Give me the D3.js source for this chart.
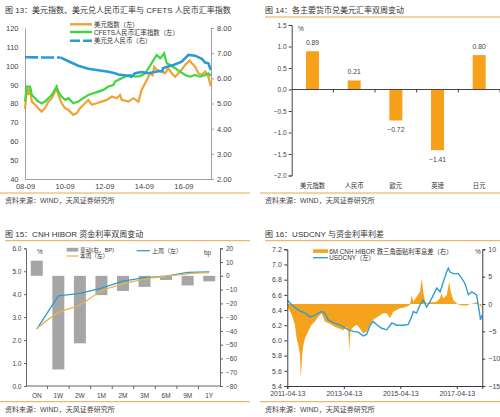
<!DOCTYPE html>
<html><head><meta charset="utf-8">
<script src="https://cdn.jsdelivr.net/npm/d3@7"></script>
<style>
body{margin:0;background:#fff}
svg{display:block}
</style></head><body>
<svg id="c" width="500" height="417"></svg>
<script>
// ---------------- DATA ----------------
// Panel 13
const dxy = [["2008-09-01",77],["2008-10-05",88],["2008-11-03",84.5],["2008-12-01",89],["2009-01-05",81],["2009-03-06",79.3],["2009-05-04",77.5],["2009-07-05",75.7],["2009-09-05",77.5],["2009-11-06",81],["2010-01-08",82.8],["2010-04-08",88.1],["2010-05-08",84.5],["2010-07-08",80.1],["2010-09-09",77.5],["2010-11-10",76.6],["2011-02-10",74],["2011-04-12",74.9],["2011-06-13",77.5],["2011-09-12",80.1],["2011-11-13",81.9],["2012-01-15",79.3],["2012-04-15",80.1],["2012-07-16",81],["2012-10-18",81.9],["2013-01-19",83.7],["2013-04-20",82.8],["2013-06-21",84.5],["2013-07-20",81.9],["2013-11-21",81],["2014-02-21",82.8],["2014-05-23",81],["2014-07-23",87.2],["2014-10-26",92.5],["2014-12-25",96],["2015-02-10",95],["2015-03-10",99.5],["2015-04-28",97.8],["2015-07-28",96.9],["2015-09-28",96],["2015-11-29",98.7],["2016-01-29",96],["2016-04-01",94.2],["2016-07-01",96.9],["2016-10-01",100.4],["2016-12-20",102.8],["2017-02-02",101.3],["2017-04-05",99.5],["2017-06-03",96],["2017-08-04",95.1],["2017-10-05",96.9],["2017-12-05",94.2],["2018-01-18",89]];
const cfets = [["2008-09-01",81],["2008-10-05",89],["2008-12-01",89],["2009-01-05",84.5],["2009-03-06",82.8],["2009-05-04",81],["2009-07-05",80.1],["2009-09-05",81],["2009-11-06",82.8],["2010-01-08",84.5],["2010-04-08",89],["2010-05-08",86.3],["2010-07-08",83.7],["2010-09-09",81.9],["2010-11-10",82.8],["2011-02-10",80.1],["2011-05-11",81],["2011-08-11",82.8],["2011-11-13",84.5],["2012-02-13",85.4],["2012-05-15",86.3],["2012-08-15",87.2],["2012-11-17",89],["2013-02-17",89.8],["2013-03-20",91.6],["2013-06-21",93],["2013-09-20",94.2],["2013-12-20",95.1],["2014-03-25",94.2],["2014-06-25",94.5],["2014-09-25",96],["2014-12-25",100],["2015-02-25",103],["2015-04-28",105.7],["2015-06-28",104],["2015-07-28",104.8],["2015-09-10",106.6],["2015-10-30",101.3],["2015-12-28",100.4],["2016-04-01",98.7],["2016-07-01",96.9],["2016-10-01",95.1],["2017-01-01",94.2],["2017-04-05",95.1],["2017-07-05",94.2],["2017-10-05",95.1],["2017-12-05",96],["2018-01-18",94.6]];
const usdcny1 = [["2008-09-01",6.84],["2009-06-01",6.83],["2010-06-15",6.83],["2010-11-10",6.68],["2011-05-11",6.5],["2011-11-13",6.38],["2012-05-15",6.32],["2012-11-17",6.26],["2013-03-20",6.2],["2013-05-18",6.15],["2013-11-21",6.1],["2014-01-15",6.06],["2014-03-25",6.2],["2014-07-23",6.25],["2014-11-25",6.2],["2015-05-26",6.28],["2015-08-11",6.28],["2015-08-20",6.4],["2015-12-31",6.5],["2016-03-01",6.53],["2016-08-01",6.66],["2016-12-02",6.93],["2017-04-05",6.9],["2017-08-04",6.78],["2017-10-05",6.63],["2017-12-05",6.6],["2018-01-18",6.33]];
const p1LeftTicks = [40,50,60,70,80,90,100,110,120];
const p1RightTicks = [2,3,4,5,6,7,8];
const p1DateTicks = ["2008-09-01","2010-09-01","2012-09-01","2014-09-01","2016-09-01"];

// Panel 14
const ccyNames = ["美元指数","人民币","欧元","英镑","日元"];
const ccyChange = [0.89,0.21,-0.72,-1.41,0.80];
const p2Ticks = [-2,-1.5,-1,-0.5,0,0.5,1,1.5];

// Panel 15
const tenors = ["ON","1W","2W","1M","2M","3M","6M","9M","1Y"];
const changeBp = [11,-68,-49,-14,-11,-8,-3,-7,-4];
const lastWeek = [2.48,3.93,4.04,4.26,4.57,4.72,4.79,4.95,4.97];
const thisWeek = [2.5,3.2,3.53,4.14,4.44,4.66,4.79,4.89,4.94];
const p3LeftTicks = [0,1,2,3,4,5,6];
const p3RightTicks = [-80,-70,-60,-50,-40,-30,-20,-10,0,10,20];

// Panel 16
const spread = [["2011-04-13",-0.4],["2011-04-27",-0.8],["2011-06-10",-2],["2011-07-20",-3.8],["2011-08-11",-6.2],["2011-09-02",-7.5],["2011-09-24",-9.3],["2011-10-05",-13.6],["2011-10-23",-9.3],["2011-11-07",-7.5],["2011-11-29",-6.2],["2012-01-08",-5],["2012-02-21",-3.8],["2012-04-05",-3.2],["2012-05-19",-2.3],["2012-07-01",-1.7],["2012-08-10",-3.2],["2012-09-24",-3.5],["2012-11-07",-3.8],["2012-12-20",-4.2],["2013-01-30",-4.4],["2013-04-05",-4.8],["2013-05-19",-4.2],["2013-06-10",-5],["2013-06-21",-8.5],["2013-07-09",-4.8],["2013-08-15",-4.2],["2013-09-28",-3.8],["2013-11-07",-4.5],["2013-12-20",-5.4],["2014-02-02",-5],["2014-03-18",-3.8],["2014-04-27",-2.9],["2014-07-01",-2.3],["2014-09-05",-1.7],["2014-10-19",-1.7],["2014-12-02",-2.6],["2015-01-11",-1.4],["2015-02-24",-1.1],["2015-04-09",-0.8],["2015-05-23",-0.7],["2015-07-02",-0.5],["2015-08-15",-0.2],["2015-09-06",1.6],["2015-09-28",0.4],["2015-11-10",1.3],["2015-12-24",2.3],["2016-01-15",4.7],["2016-02-03",2.3],["2016-02-24",0.7],["2016-03-18",0.1],["2016-05-01",0.3],["2016-06-14",0.3],["2016-07-27",0.4],["2016-09-05",1],["2016-09-27",2],["2016-10-19",1],["2016-12-02",1.6],["2016-12-24",3.2],["2017-01-05",4.1],["2017-01-23",2.3],["2017-02-28",0.7],["2017-04-13",0.1],["2017-05-23",-0.2],["2017-07-05",-0.3],["2017-08-18",-0.3],["2017-10-01",0],["2017-11-10",0.1],["2017-12-24",0.3],["2018-02-06",-0.2],["2018-02-24",-0.8]];
const usdcny4 = [["2011-04-13",6.53],["2011-06-10",6.47],["2011-09-02",6.40],["2011-11-29",6.36],["2012-01-30",6.31],["2012-04-05",6.33],["2012-05-19",6.36],["2012-07-01",6.38],["2012-08-10",6.36],["2012-09-24",6.27],["2012-11-29",6.23],["2013-02-02",6.21],["2013-04-05",6.18],["2013-06-10",6.14],["2013-08-15",6.12],["2013-10-16",6.11],["2013-12-20",6.06],["2014-02-02",6.08],["2014-03-18",6.2],["2014-04-27",6.25],["2014-06-10",6.21],["2014-08-15",6.16],["2014-10-19",6.14],["2014-12-24",6.23],["2015-02-24",6.2],["2015-05-23",6.2],["2015-07-24",6.21],["2015-09-06",6.31],["2015-09-28",6.38],["2015-11-10",6.36],["2015-12-24",6.47],["2016-02-03",6.53],["2016-03-18",6.44],["2016-05-01",6.51],["2016-06-14",6.6],["2016-07-27",6.69],["2016-09-09",6.64],["2016-10-19",6.77],["2016-12-02",6.9],["2016-12-24",6.95],["2017-01-15",6.9],["2017-02-28",6.88],["2017-05-01",6.88],["2017-06-14",6.82],["2017-07-27",6.75],["2017-09-09",6.6],["2017-10-23",6.64],["2017-12-24",6.6],["2018-01-29",6.38],["2018-02-13",6.27],["2018-03-02",6.33]];
const p4LeftTicks = [5.4,5.6,5.8,6.0,6.2,6.4,6.6,6.8,7.0,7.2];
const p4RightTicks = [-15,-10,-5,0,5,10];
const p4DateTicks = ["2011-04-13","2013-04-13","2015-04-13","2017-04-13"];

// ---------------- DRAW ----------------
const FONT = '"Liberation Sans","Noto Sans CJK SC",sans-serif';
const RULE = "#e6a652";
const parse = d3.timeParse("%Y-%m-%d");
const svg = d3.select("#c").style("font-family", FONT);
svg.append("rect").attr("width",500).attr("height",417).attr("fill","#fff");

function text(x, y, s, size, opts = {}) {
  return svg.append("text").attr("x", x).attr("y", y).text(s)
    .attr("font-size", size).attr("fill", opts.fill || "#333")
    .attr("text-anchor", opts.anchor || "start")
    .attr("dominant-baseline", opts.baseline || "auto")
    .style("font-family", FONT);
}
function rule(x1, x2, y) {
  svg.append("line").attr("x1", x1).attr("x2", x2).attr("y1", y).attr("y2", y)
    .attr("stroke", RULE).attr("stroke-width", 1);
}
function styleAxis(g, color, size, tcolor) {
  g.attr("font-family", FONT).attr("font-size", size);
  g.select(".domain").attr("stroke", color);
  g.selectAll(".tick line").attr("stroke", color);
  g.selectAll(".tick text").attr("fill", tcolor || "#444");
}
const toPts = arr => arr.map(d => ({ date: parse(d[0]), v: d[1] }));

// Titles, rules, sources
text(5, 13, "图 13：美元指数、美元兑人民币汇率与 CFETS 人民币汇率指数", 8);
text(265, 13, "图 14：各主要货币兑美元汇率双周变动", 8);
rule(265, 500, 17);
rule(0, 250, 193); rule(260, 500, 193);
text(5, 203, "资料来源：WIND，天风证券研究所", 7, { fill: "#444" });
text(265, 203, "资料来源：WIND，天风证券研究所", 7, { fill: "#444" });
text(5, 237, "图 15：CNH HIBOR 资金利率双周变动", 8);
text(265, 237, "图 16：USDCNY 与资金利率利差", 8);
rule(5, 250, 240.7); rule(265, 500, 240.7);
rule(0, 250, 401.7); rule(260, 500, 401.7);
text(5, 412, "资料来源：WIND，天风证券研究所", 7, { fill: "#444" });
text(265, 412, "资料来源：WIND，天风证券研究所", 7, { fill: "#444" });

// ===== Panel 13 =====
{
  const x = d3.scaleTime().domain([parse("2008-09-01"), parse("2018-01-22")]).range([25, 211]);
  const yL = d3.scaleLinear().domain([40, 120]).range([179, 28]);
  const yR = d3.scaleLinear().domain([2, 8]).range([179, 28]);
  const ax = "#a0a0a0";
  styleAxis(svg.append("g").attr("transform", "translate(25,0)")
    .call(d3.axisLeft(yL).tickValues(p1LeftTicks).tickSize(0).tickPadding(6.5)), ax, 7.5);
  styleAxis(svg.append("g").attr("transform", "translate(211,0)")
    .call(d3.axisRight(yR).tickValues(p1RightTicks).tickFormat(d3.format(".2f")).tickSize(3).tickPadding(3)), ax, 7.5);
  styleAxis(svg.append("g").attr("transform", "translate(0,179)")
    .call(d3.axisBottom(x).tickValues(p1DateTicks.map(parse)).tickFormat(d3.timeFormat("%y-%m")).tickSize(0).tickPadding(5)), ax, 7.5);

  const lineL = d3.line().x(d => x(d.date)).y(d => yL(d.v));
  const lineR = d3.line().x(d => x(d.date)).y(d => yR(d.v));
  svg.append("path").datum(toPts(dxy)).attr("d", lineL).attr("fill", "none").attr("stroke", "#f2a235").attr("stroke-width", 2.2);
  svg.append("path").datum(toPts(cfets)).attr("d", lineL).attr("fill", "none").attr("stroke", "#3cd93c").attr("stroke-width", 2.2);
  const cut = parse("2010-06-15");
  const u = toPts(usdcny1);
  svg.append("path").datum(u.filter(d => d.date <= cut)).attr("d", lineR).attr("fill", "none").attr("stroke", "#2b9ad6").attr("stroke-width", 2.6).attr("stroke-dasharray", "13,3");
  svg.append("path").datum(u.filter(d => d.date >= cut)).attr("d", lineR).attr("fill", "none").attr("stroke", "#2b9ad6").attr("stroke-width", 2.6);

  // legend
  const leg = [["美元指数（左）", "#f2a235", 24.3, null], ["CFETS人民币汇率指数（左）", "#3cd93c", 32, null], ["美元兑人民币（右）", "#2b9ad6", 40.7, "10,3"]];
  leg.forEach(l => {
    svg.append("line").attr("x1", 70).attr("x2", 92).attr("y1", l[2]).attr("y2", l[2])
      .attr("stroke", l[1]).attr("stroke-width", 2.4).attr("stroke-dasharray", l[3]);
    text(94, l[2], l[0], 6.4, { baseline: "central", fill: "#333" });
  });
}

// ===== Panel 14 =====
{
  const x = d3.scaleBand().domain(ccyNames).range([291.7, 500]).paddingInner(0.688).paddingOuter(0.344);
  const y = d3.scaleLinear().domain([-2, 1.5]).range([175.5, 25]);
  const ax = "#444";
  styleAxis(svg.append("g").attr("transform", "translate(291.7,0)")
    .call(d3.axisLeft(y).tickValues(p2Ticks).tickFormat(d3.format(".1f")).tickSize(3).tickPadding(2)), ax, 6.6);
  const data = ccyNames.map((c, i) => ({ c, v: ccyChange[i] }));
  svg.selectAll(".b14").data(data).join("rect")
    .attr("x", d => x(d.c)).attr("width", x.bandwidth())
    .attr("y", d => Math.min(y(d.v), y(0))).attr("height", d => Math.abs(y(d.v) - y(0)))
    .attr("fill", "#f7a11a");
  svg.append("line").attr("x1", 291.7).attr("x2", 500).attr("y1", y(0)).attr("y2", y(0)).attr("stroke", ax);
  const step = x.step();
  ccyNames.forEach((c, i) => {
    const bx = x(c) + x.bandwidth() / 2 + step / 2;
    svg.append("line").attr("x1", bx).attr("x2", bx).attr("y1", y(0)).attr("y2", y(0) + 3).attr("stroke", ax);
    text(x(c) + x.bandwidth() / 2, 185, c, 6.3, { anchor: "middle", baseline: "central", fill: "#333" });
  });
  const f = d3.format(".2f");
  data.forEach(d => {
    const cy = d.v >= 0 ? y(d.v) - 8.5 : y(d.v) + 9;
    text(x(d.c) + x.bandwidth() / 2, cy, f(d.v), 6.8, { anchor: "middle", baseline: "central", fill: "#444" });
  });
  text(298, 28, "%", 6.5, { baseline: "central", fill: "#444" });
}

// ===== Panel 15 =====
{
  const x = d3.scaleBand().domain(tenors).range([26, 220]).paddingInner(0.443).paddingOuter(0.2215);
  const yL = d3.scaleLinear().domain([0, 6]).range([386, 248.3]);
  const yR = d3.scaleLinear().domain([-80, 20]).range([386, 248.3]);
  const ax = "#666";
  styleAxis(svg.append("g").attr("transform", "translate(26,0)")
    .call(d3.axisLeft(yL).tickValues(p3LeftTicks).tickFormat(d3.format(".1f")).tickSize(2).tickPadding(2.5)), ax, 6.5);
  styleAxis(svg.append("g").attr("transform", "translate(220,0)")
    .call(d3.axisRight(yR).tickValues(p3RightTicks).tickFormat(d3.format("d")).tickSize(3).tickPadding(3)), ax, 6.5);
  svg.append("line").attr("x1", 26).attr("x2", 220).attr("y1", 386).attr("y2", 386).attr("stroke", ax);
  const step = x.step();
  tenors.forEach((t, i) => {
    const cx = x(t) + x.bandwidth() / 2;
    if (i < tenors.length - 1) {
      svg.append("line").attr("x1", cx + step / 2).attr("x2", cx + step / 2).attr("y1", 386).attr("y2", 389).attr("stroke", ax);
    }
    text(cx, 395, t, 6.5, { anchor: "middle", baseline: "central", fill: "#444" });
  });
  const bars = tenors.map((t, i) => ({ t, v: changeBp[i] }));
  svg.selectAll(".b15").data(bars).join("rect")
    .attr("x", d => x(d.t)).attr("width", x.bandwidth())
    .attr("y", d => Math.min(yR(d.v), yR(0))).attr("height", d => Math.abs(yR(d.v) - yR(0)))
    .attr("fill", "#a6a6a6");
  const cx = t => x(t) + x.bandwidth() / 2;
  svg.append("path").datum(tenors.map((t, i) => [cx(t), yL(lastWeek[i])]))
    .attr("d", d3.line()).attr("fill", "none").attr("stroke", "#2c9cc8").attr("stroke-width", 1.3);
  svg.append("path").datum(tenors.map((t, i) => [cx(t), yL(thisWeek[i])]))
    .attr("d", d3.line().curve(d3.curveMonotoneX)).attr("fill", "none").attr("stroke", "#e8b350").attr("stroke-width", 1.3);
  // legend
  svg.append("rect").attr("x", 66.7).attr("y", 247.8).attr("width", 11.6).attr("height", 3.8).attr("fill", "#a6a6a6");
  text(80, 249.6, "变动(右，BP)", 5.7, { baseline: "central" });
  svg.append("line").attr("x1", 66.7).attr("x2", 78.3).attr("y1", 256).attr("y2", 256).attr("stroke", "#e8b350").attr("stroke-width", 1.3);
  text(80, 256, "本周（左）", 5.7, { baseline: "central" });
  svg.append("line").attr("x1", 136.7).attr("x2", 150).attr("y1", 250.7).attr("y2", 250.7).attr("stroke", "#2c9cc8").attr("stroke-width", 1.3);
  text(152, 250.7, "上周（左）", 6.0, { baseline: "central" });
  text(37, 251, "%", 6.5, { baseline: "central", fill: "#444" });
  text(204, 252, "bp", 6.5, { baseline: "central", fill: "#444" });
}

// ===== Panel 16 =====
{
  const x = d3.scaleTime().domain([parse("2011-04-13"), parse("2018-03-08")]).range([287.3, 482.3]);
  const yL = d3.scaleLinear().domain([5.4, 7.2]).range([386, 249.3]);
  const yR = d3.scaleLinear().domain([-15, 10]).range([386, 249.3]);
  const ax = "#3a3a4a";
  svg.append("path").datum(toPts(spread))
    .attr("d", d3.area().x(d => x(d.date)).y0(yR(0)).y1(d => yR(d.v)))
    .attr("fill", "#f5a31c");
  svg.append("path").datum(toPts(usdcny4))
    .attr("d", d3.line().x(d => x(d.date)).y(d => yL(d.v)))
    .attr("fill", "none").attr("stroke", "#2e9fd1").attr("stroke-width", 1.4);
  styleAxis(svg.append("g").attr("transform", "translate(287.3,0)")
    .call(d3.axisLeft(yL).tickValues(p4LeftTicks).tickFormat(d3.format(".1f")).tickSize(3).tickPadding(2.5)), ax, 7);
  styleAxis(svg.append("g").attr("transform", "translate(482.3,0)")
    .call(d3.axisRight(yR).tickValues(p4RightTicks).tickFormat(d3.format("d")).tickSize(3).tickPadding(3)), ax, 7);
  styleAxis(svg.append("g").attr("transform", "translate(0,386)")
    .call(d3.axisBottom(x).tickValues(p4DateTicks.map(parse)).tickFormat(d3.timeFormat("%Y-%m-%d")).tickSize(3).tickPadding(2)), ax, 7);
  // legend
  svg.append("rect").attr("x", 313).attr("y", 249.3).attr("width", 15).attr("height", 3.6).attr("fill", "#f5a31c");
  text(329.3, 251, "6M CNH HIBOR 跌三角面贴利率息差（右）", 6.3, { baseline: "central" });
  svg.append("line").attr("x1", 313).attr("x2", 328).attr("y1", 257.7).attr("y2", 257.7).attr("stroke", "#2e9fd1").attr("stroke-width", 1.4);
  text(329.3, 257.7, "USDCNY（左）", 6.3, { baseline: "central" });
  text(475, 251.5, "%", 6.5, { baseline: "central", fill: "#444" });
}
</script>
</body></html>
